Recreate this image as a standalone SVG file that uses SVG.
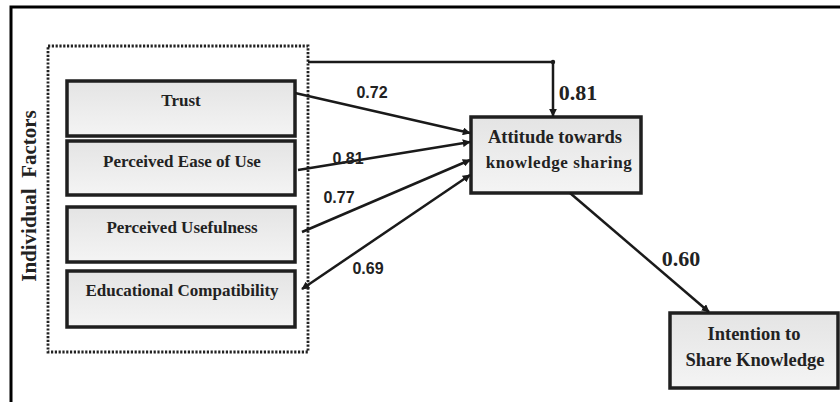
<svg xmlns="http://www.w3.org/2000/svg" width="840" height="402" viewBox="0 0 840 402">
<defs>
<linearGradient id="g" x1="0" y1="0" x2="0" y2="1">
<stop offset="0" stop-color="#e4e4e4"/>
<stop offset="1" stop-color="#f4f4f4"/>
</linearGradient>
<marker id="ah" viewBox="0 0 10 10" refX="9" refY="5" markerWidth="8" markerHeight="8" markerUnits="userSpaceOnUse" orient="auto-start-reverse">
<path d="M0,0 L10,5 L0,10 z" fill="#1a1a1a"/>
</marker>
<style>
.box{fill:url(#g);stroke:#1f1f1f;stroke-width:3.5}
.t{font-family:"Liberation Serif","Times New Roman",serif;font-weight:bold;fill:#222;text-anchor:middle}
.n{font-family:"Liberation Sans",Arial,sans-serif;font-weight:bold;fill:#222;text-anchor:middle}
.c{fill:none;stroke:#1a1a1a;stroke-width:2.5}
</style>
</defs>
<rect width="840" height="402" fill="#fff"/>
<path d="M11,402 L11,7 L840,7" fill="none" stroke="#000" stroke-width="3"/>
<g id="individual-factors">
<rect x="48" y="46" width="260" height="306" fill="none" stroke="#222" stroke-width="2.8" stroke-dasharray="2.2,1.6"/>
<text class="t" font-size="21" transform="translate(36,196) rotate(-90)" xml:space="preserve">Individual  Factors</text>
</g>
<g id="trust">
<rect class="box" x="67" y="81" width="228" height="55"/>
<text class="t" x="181" y="106" font-size="17">Trust</text>
</g>
<g id="ease">
<rect class="box" x="67" y="141" width="228" height="54"/>
<text class="t" x="182" y="167" font-size="17">Perceived Ease of Use</text>
</g>
<g id="usefulness">
<rect class="box" x="67" y="207" width="228" height="55"/>
<text class="t" x="182" y="233" font-size="17">Perceived Usefulness</text>
</g>
<g id="educational">
<rect class="box" x="67" y="271" width="228" height="56"/>
<text class="t" x="182" y="296" font-size="17">Educational Compatibility</text>
</g>
<g id="attitude">
<rect class="box" x="471" y="117" width="170" height="76"/>
<text class="t" x="555" y="143" font-size="18.5">Attitude towards</text>
<text class="t" x="559" y="168" font-size="17" letter-spacing="0.6">knowledge sharing</text>
</g>
<g id="intention">
<rect class="box" x="670" y="313" width="168" height="75"/>
<text class="t" x="754" y="340" font-size="18.5">Intention to</text>
<text class="t" x="755" y="366" font-size="18.5">Share Knowledge</text>
</g>
<g id="connectors">
<path class="c" d="M308,62 L553,62 L553,116" marker-end="url(#ah)"/>
<circle cx="553" cy="62" r="2.2" fill="#1a1a1a"/>
<path class="c" d="M295,93 L470,133" marker-end="url(#ah)"/>
<path class="c" d="M298,170 L470,142" marker-end="url(#ah)"/>
<path class="c" d="M302,232 L470,160" marker-end="url(#ah)"/>
<path class="c" d="M302,289 L470,175" marker-start="url(#ah)" marker-end="url(#ah)"/>
<path class="c" d="M570,193 L709,312" marker-end="url(#ah)"/>
<text class="n" x="372" y="98" font-size="16">0.72</text>
<text class="n" x="348" y="164" font-size="16">0.81</text>
<text class="n" x="339" y="203" font-size="16">0.77</text>
<text class="n" x="368" y="274" font-size="16">0.69</text>
<text class="t" x="578" y="100" font-size="22">0.81</text>
<text class="t" x="681" y="266" font-size="22">0.60</text>
</g>
</svg>
